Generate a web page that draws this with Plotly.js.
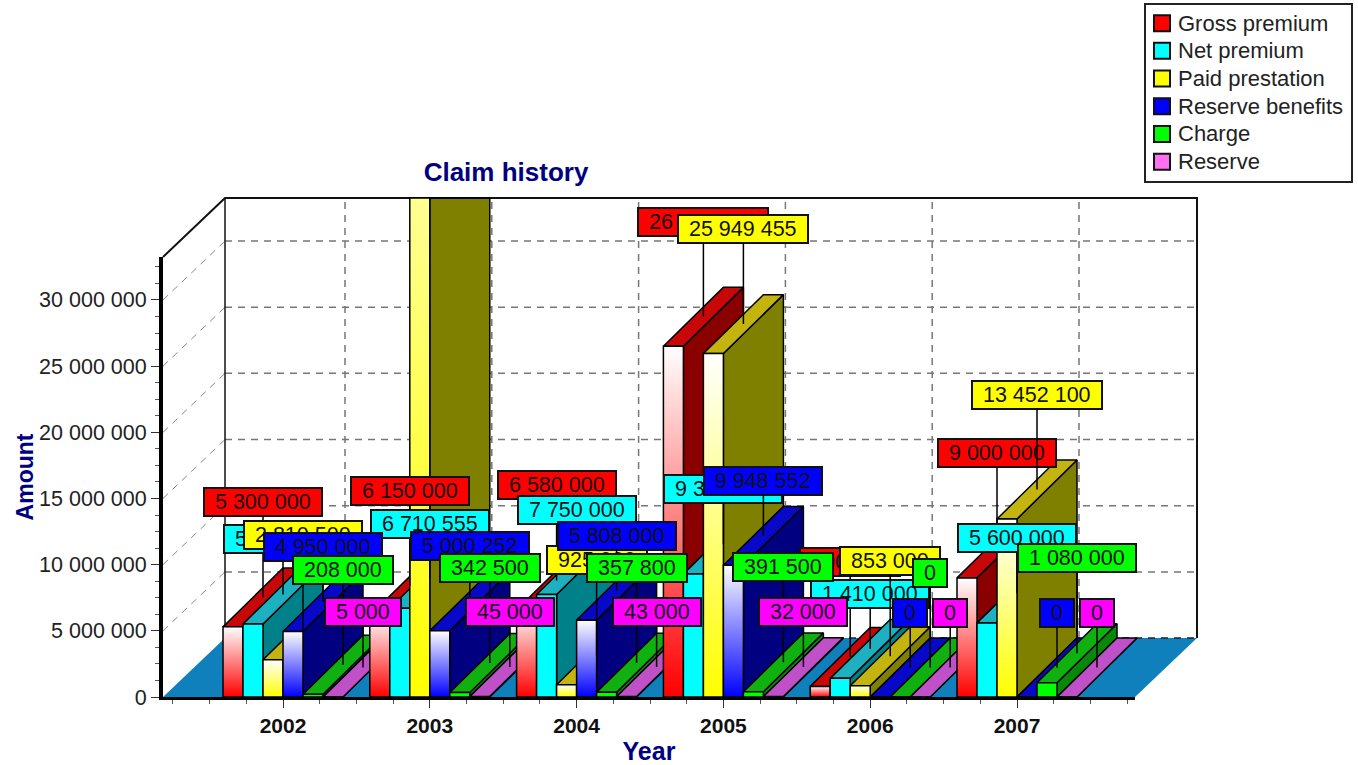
<!DOCTYPE html>
<html>
<head>
<meta charset="utf-8">
<script src="https://cdn.plot.ly/plotly-3.0.1.min.js"></script>
<style>html,body{margin:0;padding:0;background:#fff}#chart{width:1358px;height:765px}</style>
</head>
<body>
<div id="chart"></div>
<script>
const years = ['2002','2003','2004','2005','2006','2007'];
const seriesNames = ['Gross premium','Net premium','Paid prestation','Reserve benefits','Charge','Reserve'];
const grossPremium    = [5300000, 6150000, 6580000, 26500000, 800000, 9000000];
const netPremium      = [5520000, 6710555, 7750000, 9300000, 1410000, 5600000];
const paidPrestation  = [2810500, 65000000, 925000, 25949455, 853000, 13452100];
const reserveBenefits = [4950000, 5000252, 5808000, 9948552, 0, 0];
const charge          = [208000, 342500, 357800, 391500, 0, 1080000];
const reserve         = [5000, 45000, 43000, 32000, 0, 0];
const allSeries = [grossPremium, netPremium, paidPrestation, reserveBenefits, charge, reserve];

const frontColors = ['#ff0000','#00ffff','#ffff00','#0000ff','#00ff00','#ff70f0'];
const labelColors = ['#ff0000','#00ffff','#ffff00','#0000ff','#00ff00','#ff00ff'];
const topColors   = ['#c80808','#1cb0c0','#c4b410','#0808c8','#10b010','#c050c8'];
const sideColors  = ['#8a0000','#008088','#808000','#000080','#088808','#903098'];
const gradientSeries = [true,false,true,true,false,false];

const yTickVals = [0,5000000,10000000,15000000,20000000,25000000,30000000];
const yTickText = ['0','5 000 000','10 000 000','15 000 000','20 000 000','25 000 000','30 000 000'];

const FONT = 'Liberation Sans, Arial, sans-serif';
const PX_CAT = 146.8, PX_VAL = 13.25 / 1e6;         // axis scale, px per unit
const X0 = -120 / PX_CAT, X1 = 852 / PX_CAT;
const Y1 = 440.5 / PX_VAL;
const WALL_X = 62 / PX_CAT, WALL_Y = 59 / PX_VAL;   // oblique depth of the box
const BAR_X = 60 / PX_CAT, BAR_Y = 59 / PX_VAL;     // oblique depth of one bar
const BAR_W = 20 / PX_CAT;
const TOP = Y1 + WALL_Y;
const clipY = v => Math.min(v, TOP);

const traces = [];
function poly(xs, ys, fill, lineColor, lineWidth, extra) {
  traces.push(Object.assign({
    type:'scatter', mode:'lines', x:xs.concat(xs[0]), y:ys.concat(ys[0]),
    fill:'toself', fillcolor:fill,
    line:{color:lineColor, width:lineWidth}, showlegend:false, hoverinfo:'skip', cliponaxis:false
  }, extra || {}));
}
function seg(xs, ys, color, width, dash) {
  traces.push({type:'scatter', mode:'lines', x:xs, y:ys,
    line:{color:color, width:width, dash:dash||'solid'}, showlegend:false, hoverinfo:'skip', cliponaxis:false});
}

// floor
poly([X0,X1,X1+WALL_X,X0+WALL_X],[0,0,WALL_Y,WALL_Y],'#1080bc','rgba(0,0,0,0)',0);
// grid on the back and left walls
const DASH = '7px,6px';
yTickVals.forEach(v => {
  if (v > 0) {
    seg([X0+WALL_X, X1+WALL_X],[v+WALL_Y, v+WALL_Y],'#777',1.5,DASH);
    seg([X0, X0+WALL_X],[v, v+WALL_Y],'#888',1,DASH);
  }
});
seg([X0+WALL_X, X1+WALL_X],[WALL_Y, WALL_Y],'#222',1.5,DASH);
years.forEach((y,i) => seg([i+WALL_X,i+WALL_X],[WALL_Y,TOP],'#777',1.5,DASH));
// frame of the walls
seg([X0,X0+WALL_X,X1+WALL_X,X1+WALL_X],[Y1,TOP,TOP,WALL_Y],'#111',2);
seg([X0+WALL_X,X0+WALL_X],[WALL_Y,TOP],'#111',1.5);

// bars, painted left to right
const nS = allSeries.length;
years.forEach((y,c) => {
  allSeries.forEach((vals,s) => {
    const v = vals[c];
    const xl = c + (s - nS/2) * BAR_W, xr = xl + BAR_W;
    // side face
    poly([xr,xr,xr+BAR_X,xr+BAR_X],[0,clipY(v),clipY(v+BAR_Y),BAR_Y],sideColors[s],'#000',1.5);
    // top face
    poly([xl,xr,xr+BAR_X,xl+BAR_X],[clipY(v),clipY(v),clipY(v+BAR_Y),clipY(v+BAR_Y)],topColors[s],'#000',1.5);
    // front face
    const extra = (gradientSeries[s] && v > 0) ? {fillgradient:{type:'vertical',
      colorscale:[[0,frontColors[s]],[1,'#ffffff']], start:0, stop:v}} : {};
    poly([xl,xr,xr,xl],[0,0,clipY(v),clipY(v)],frontColors[s],'#000',1.5,extra);
  });
});

// legend entries
seriesNames.forEach((name,s) => {
  traces.push({type:'scatter',mode:'markers',x:[null],y:[null],
    name:'<span style="font-size:22px">'+name+'</span>',legendgroup:'g'+s,
    marker:{symbol:'square',size:16,color:frontColors[s],line:{color:'#111',width:2}},hoverinfo:'skip'});
});

// value labels: one series after another, alternating between two stem lengths
const fmt = n => String(n).replace(/\B(?=(\d{3})+$)/g,' ');
const textW = t => { let w=0; for (const ch of t) w += ch===' ' ? 0.278 : 0.556; return w*21.5; };
const annotations = [];
allSeries.forEach((vals,s) => {
  vals.forEach((v,c) => {
    const t = fmt(v);
    annotations.push({
      x: c + (s - nS/2 + 0.5)*BAR_W + BAR_X/2, y: v + BAR_Y/2, xref:'x', yref:'y',
      text:t, showarrow:true, arrowhead:0, arrowwidth:1.5, arrowcolor:'#000', ax:0, ay:(s%2 ? -55 : -95),
      bgcolor:labelColors[s], bordercolor:'#111', borderwidth:2, borderpad:1,
      width:textW(t)+18, height:24, align:'center',
      font:{family:FONT,size:21.5,color:'#111'}
    });
  });
});

const minorX = [], minorY = [];
for (let k=-3; k<=23; k++) minorX.push(k/4);
for (let k=1; k<=26; k++) minorY.push(k*1250000);

const layout = {
  width:1358, height:765, paper_bgcolor:'#fff', plot_bgcolor:'rgba(0,0,0,0)',
  margin:{l:163,r:223,t:257,b:67.5,autoexpand:false},
  font:{family:FONT,color:'#222'},
  title:{text:'<b>Claim history</b>',xref:'container',yref:'container',x:506/1358,y:1-172/765,
    xanchor:'center',yanchor:'middle',font:{family:FONT,size:26,color:'#000080'}},
  xaxis:{range:[X0,X1],tickmode:'array',tickvals:years.map((y,i)=>i),ticktext:years.map(y=>'<b>'+y+'</b>'),
    tickfont:{family:FONT,size:21,color:'#111'},ticks:'outside',ticklen:8,tickwidth:1,tickcolor:'#333',
    ticklabelstandoff:0,
    minor:{tickmode:'array',tickvals:minorX,ticks:'outside',ticklen:4,tickwidth:1,tickcolor:'#555',showgrid:false},
    showgrid:false,zeroline:false,showline:true,linecolor:'#000',linewidth:3,
    title:{text:'<b>Year</b>',standoff:8,font:{family:FONT,size:25,color:'#000080'}}},
  yaxis:{range:[0,Y1],tickmode:'array',tickvals:yTickVals,ticktext:yTickText,
    tickfont:{family:FONT,size:21.5,color:'#222'},ticks:'outside',ticklen:8,tickwidth:1,tickcolor:'#333',
    ticklabelstandoff:0,
    minor:{tickmode:'array',tickvals:minorY,ticks:'outside',ticklen:4,tickwidth:1,tickcolor:'#555',showgrid:false},
    showgrid:false,zeroline:false,showline:true,linecolor:'#000',linewidth:4,
    title:{text:'<b>Amount</b>',standoff:0,font:{family:FONT,size:23,color:'#000080'}}},
  legend:{x:(1144-163)/972,y:1+(257-3)/440.5,xanchor:'left',yanchor:'top',xref:'paper',yref:'paper',
    bgcolor:'#fff',bordercolor:'#222',borderwidth:2,font:{family:FONT,size:19,color:'#222'},
    tracegroupgap:0,itemwidth:30},
  annotations:annotations,
  showlegend:true
};
Plotly.newPlot('chart',traces,layout,{displayModeBar:false,staticPlot:true}).then(() => {
  // the oblique back walls and floor lie beyond the front-plane axes: let them show
  document.querySelectorAll('#chart .cartesianlayer [clip-path]').forEach(el => el.removeAttribute('clip-path'));
  // tighter legend key-to-text spacing and box
  document.querySelectorAll('#chart .legend .legendtext').forEach(el => {
    el.setAttribute('x', Number(el.getAttribute('x')) - 8);
    el.querySelectorAll('tspan[x]').forEach(t => t.setAttribute('x', Number(t.getAttribute('x')) - 8));
    el.setAttribute('transform','translate(0,-1)');
  });
  document.querySelectorAll('#chart .legend .legendsymbols').forEach(el => el.setAttribute('transform','translate(-4,-1)'));
  const bg = document.querySelector('#chart .legend rect.bg');
  if (bg) { bg.setAttribute('width', 207); bg.setAttribute('height', 178); }
});
</script>
</body>
</html>
